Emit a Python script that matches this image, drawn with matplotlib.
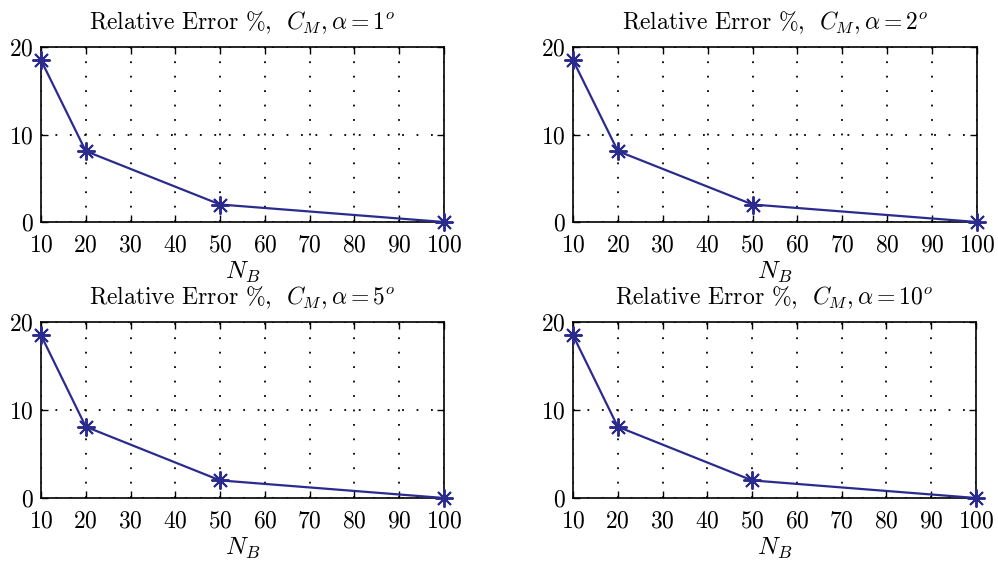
import matplotlib
matplotlib.use("Agg")
import matplotlib.pyplot as plt

plt.rcParams['font.family'] = 'serif'
plt.rcParams['font.serif'] = ['cmr10']
plt.rcParams['mathtext.fontset'] = 'cm'
plt.rcParams['axes.formatter.use_mathtext'] = True

nb = [10, 20, 50, 100]
err_1 = [18.5, 8.1, 2.0, 0.0]
err_2 = [18.5, 8.1, 2.0, 0.0]
err_5 = [18.5, 8.1, 2.0, 0.0]
err_10 = [18.5, 8.1, 2.0, 0.0]
alphas = ['1', '2', '5', '10']
xticks = [10, 20, 30, 40, 50, 60, 70, 80, 90, 100]
yticks = [0, 10, 20]

fig = plt.figure(figsize=(9.98, 5.67), dpi=100)

# axes boxes in pixels: left, top, right, bottom
boxes = [(41, 47, 444, 222), (573, 47, 977, 222),
         (41, 322, 444, 498), (573, 322, 976, 498)]
series = [err_1, err_2, err_5, err_10]
W, H = 998, 567

for (l, t, r, b), y, a in zip(boxes, series, alphas):
    ax = fig.add_axes([l / W, 1 - b / H, (r - l) / W, (b - t) / H])
    ax.plot(nb, y, color='#2b2b8e', lw=1.6, marker=(8, 2, 0),
            markersize=13, markeredgewidth=1.4, clip_on=False, zorder=5)
    ax.set_xlim(10, 100)
    ax.set_ylim(0, 20)
    ax.set_xticks(xticks)
    ax.set_yticks(yticks)
    ax.grid(True, color='black', linestyle=(0, (1, 7)), linewidth=1.3)
    ax.tick_params(direction='in', top=True, right=True, labelsize=17,
                   length=5, width=1.0)
    ax.tick_params(axis='x', pad=9)
    ax.tick_params(axis='y', pad=5)
    for s in ax.spines.values():
        s.set_linewidth(1.2)
    ax.set_title(r'Relative Error %, $\ C_M, \alpha = ' + a + '^o$',
                 fontsize=17, pad=13)
    ax.set_xlabel(r'$N_B$', fontsize=18, labelpad=2)

fig.savefig('out.png', dpi=100)
